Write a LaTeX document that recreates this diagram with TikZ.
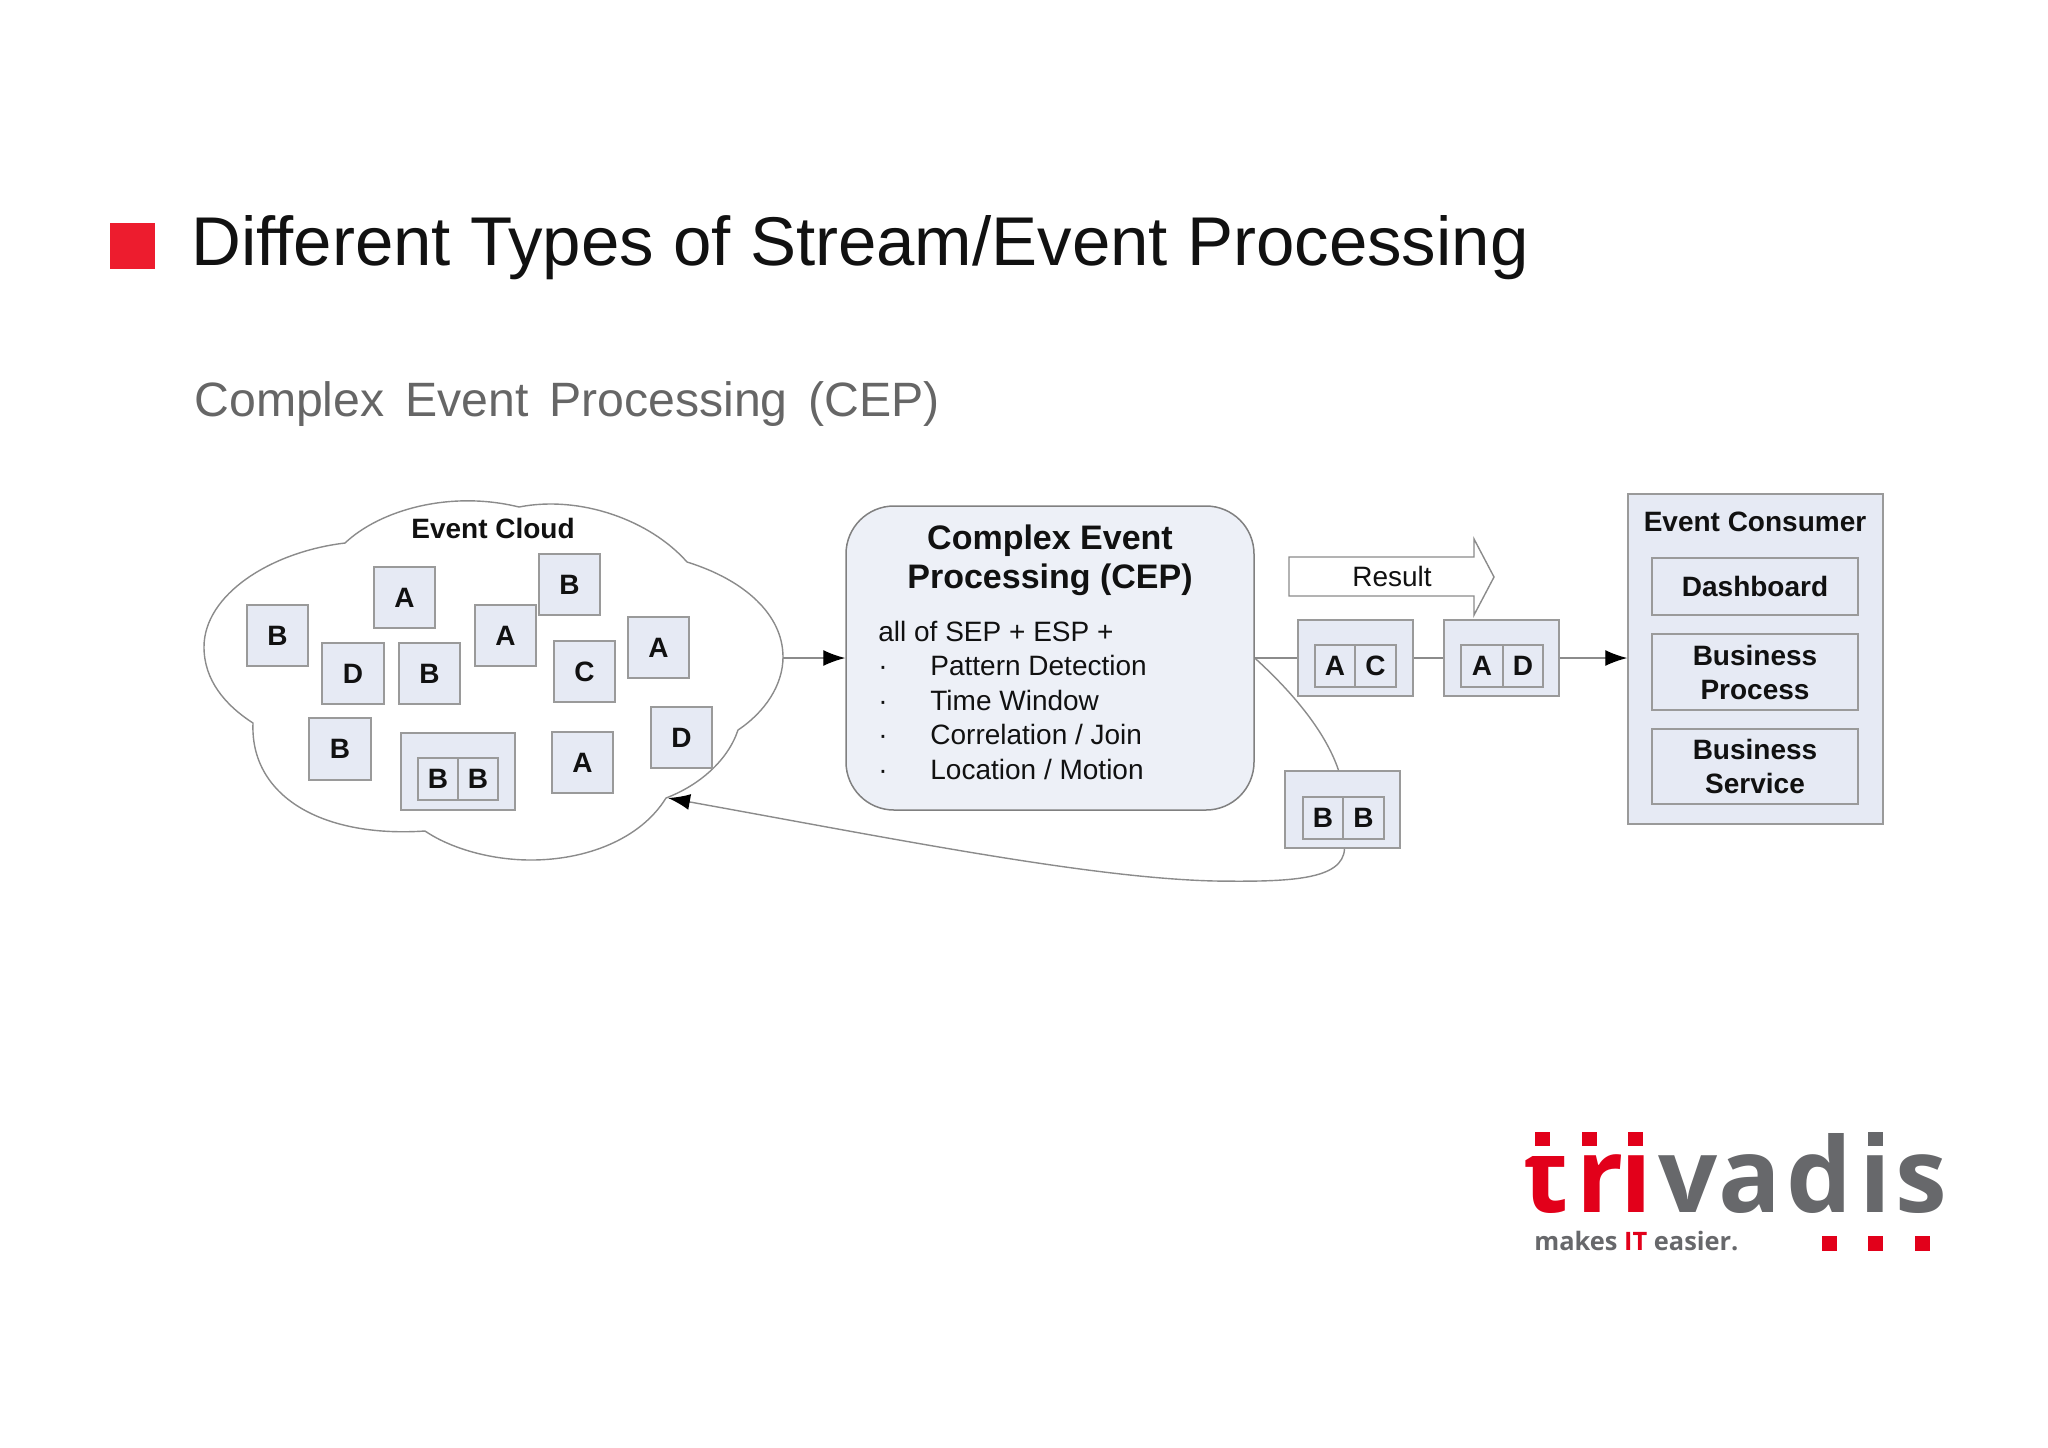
\documentclass[tikz,border=0pt]{standalone}
\usepackage{fontspec}
\setmainfont{Liberation Sans}
\newfontfamily\logofont{Open Sans}
\newfontfamily\subfont[WordSpace=1.55]{Liberation Sans}
\usetikzlibrary{arrows.meta}
\definecolor{boxfill}{HTML}{E6EAF4}
\definecolor{boxline}{HTML}{9A9A9A}
\definecolor{tvred}{HTML}{E2001A}
\definecolor{tvgray}{HTML}{67686B}
\definecolor{sqred}{HTML}{ED1C2E}
\definecolor{ink}{HTML}{111111}
\tikzset{
  x=0.5pt,y=-0.5pt,
  ebox/.style={draw=boxline,fill=boxfill,line width=0.75pt,inner sep=0pt,align=center,text=ink,font=\bfseries\fontsize{14}{17}\selectfont},
  txt/.style={inner sep=0pt,align=center,text=ink,font=\bfseries\fontsize{14}{17}\selectfont},
  bodytxt/.style={inner sep=0pt,anchor=base west,text=ink,font=\fontsize{14}{17}\selectfont},
  conn/.style={draw=boxline!90!black,line width=0.7pt},
  arr/.style={conn,-{Latex[black,length=11pt,width=8pt]}},
  logor/.style={inner sep=0pt,anchor=base,text=tvred,font=\logofont\bfseries\fontsize{52}{52}\selectfont},
  logog/.style={inner sep=0pt,anchor=base,text=tvgray,font=\logofont\bfseries\fontsize{52}{52}\selectfont},
}
\newcommand{\bx}[7][ebox]{\node[#1,minimum width={(#5-#3)*0.5pt},minimum height={(#6-#4)*0.5pt}] (#2) at ({(#3+#5)/2},{(#4+#6)/2}) {#7};}
\begin{document}
\begin{tikzpicture}
\useasboundingbox (0,0) rectangle (2048,1447);
% header
\fill[sqred] (110,223) rectangle (155,269);
\node[inner sep=0pt,anchor=base west,text=ink,font=\fontsize{34.5}{40}\selectfont] (title) at (191,265) {Different Types of Stream/Event Processing};
\node[inner sep=0pt,anchor=base west,text=black!60,font=\subfont\fontsize{24.1}{30}\selectfont] (sub) at (194,416) {Complex Event Processing (CEP)};
% cloud
\draw[conn,fill=white] (345,543) .. controls (380,510) and (450,490) .. (519,507)
  .. controls (580,495) and (650,520) .. (687,562)
  .. controls (745,580) and (783,615) .. (783,657)
  .. controls (783,685) and (765,712) .. (738,730)
  .. controls (728,760) and (700,785) .. (666,798)
  .. controls (640,840) and (585,860) .. (531,860)
  .. controls (490,860) and (450,848) .. (425,831)
  .. controls (320,838) and (250,795) .. (253,723)
  .. controls (225,705) and (204,680) .. (204,647)
  .. controls (204,595) and (270,552) .. (345,543) -- cycle;
\coordinate (cloudE) at (783,658);
\coordinate (cloudIn) at (668,798);
\node[txt] (cloudT) at (493,528) {Event Cloud};
\bx{b1}{247}{605}{308}{666}{B}
\bx{a1}{374}{567}{435}{628}{A}
\bx{a2}{475}{605}{536}{666}{A}
\bx{b2}{539}{554}{600}{615}{B}
\bx{d1}{322}{643}{384}{704}{D}
\bx{b3}{399}{643}{460}{704}{B}
\bx{c1}{554}{641}{615}{702}{C}
\bx{a3}{628}{617}{689}{678}{A}
\bx{b4}{309}{718}{371}{780}{B}
\bx{a4}{552}{732}{613}{793}{A}
\bx{d2}{651}{707}{712}{768}{D}
\bx{pc}{401}{733}{515}{810}{}
\bx{pc1}{418}{758}{458}{800}{B}
\bx{pc2}{458}{758}{498}{800}{B}
% CEP
\node[draw=black!50,fill=boxfill!70!white,line width=0.75pt,rounded corners=24pt,inner sep=0pt,minimum width=204pt,minimum height=152pt] (cep) at (1050,658) {};
\node[txt,font=\bfseries\fontsize{17}{19.5}\selectfont] (cepT) at (1050,560) {Complex Event\\Processing (CEP)};
\node[bodytxt] (l0) at (878,641) {all of SEP + ESP +};
\node[bodytxt] (d1b) at (878,675) {·};
\node[bodytxt] (l1) at (930,675) {Pattern Detection};
\node[bodytxt] (d2b) at (878,710) {·};
\node[bodytxt] (l2) at (930,710) {Time Window};
\node[bodytxt] (d3b) at (878,744) {·};
\node[bodytxt] (l3) at (930,744) {Correlation / Join};
\node[bodytxt] (d4b) at (878,779) {·};
\node[bodytxt] (l4) at (930,779) {Location / Motion};
% result arrow
\draw[conn,fill=white] (1289,557)--(1474,557)--(1474,539)--(1494,577)--(1474,615)--(1474,596)--(1289,596)--cycle;
\node[inner sep=0pt,text=ink,font=\fontsize{14}{17}\selectfont] (res) at (1392,576) {Result};
% packets
\bx{ac}{1298}{620}{1413}{696}{}
\bx{ac1}{1315}{645}{1355}{687}{A}
\bx{ac2}{1355}{645}{1396}{687}{C}
\bx{ad}{1444}{620}{1559}{696}{}
\bx{ad1}{1461}{645}{1503}{687}{A}
\bx{ad2}{1503}{645}{1543}{687}{D}
\bx{bb}{1285}{771}{1400}{848}{}
\bx{bb1}{1303}{797}{1343}{839}{B}
\bx{bb2}{1343}{797}{1384}{839}{B}
% consumer
\bx{cons}{1628}{494}{1883}{824}{}
\node[txt] (consT) at (1755,522) {Event Consumer};
\bx{dash}{1652}{558}{1858}{615}{Dashboard}
\bx{bp}{1652}{634}{1858}{710}{Business\\Process}
\bx{bs}{1652}{729}{1858}{804}{Business\\Service}
% connectors
\draw[arr] (cloudE) -- (cep.west |- cloudE);
\draw[conn] (cep.east |- ac.west) -- (ac.west);
\draw[conn] (ac.east) -- (ad.west);
\draw[arr] (ad.east) -- (cons.west |- ad.east);
\draw[conn] (cep.east |- ac.west) .. controls (1290,690) and (1325,730) .. ([xshift=-2pt]bb.north);
\draw[arr] ([xshift=1pt]bb.south) .. controls (1343,880) and (1290,882) .. (1215,881) .. controls (1090,878) and (900,840) .. (cloudIn);
% logo
\node[logor] (lt) at (1546,1212) {t};
\fill[white] (1525,1120) rectangle (1570,1156);
\node[logor] (lr) at (1600,1212) {r};
\node[logor] (li) at (1636,1212) {ı};
\node[logog] (lv) at (1688,1212) {v};
\node[logog] (la) at (1750,1212) {a};
\node[logog] (ld) at (1819,1212) {d};
\node[logog] (li2) at (1875,1212) {ı};
\node[logog] (ls) at (1921,1212) {s};
\fill[tvred] (1535,1132) rectangle (1550,1146);
\fill[tvred] (1582,1132) rectangle (1597,1146);
\fill[tvred] (1628,1132) rectangle (1643,1146);
\fill[tvgray] (1868,1132) rectangle (1883,1146);
\fill[tvred] (1822,1236) rectangle (1837,1251);
\fill[tvred] (1868,1236) rectangle (1883,1251);
\fill[tvred] (1915,1236) rectangle (1930,1251);
\node[inner sep=0pt,anchor=base west,text=tvgray,font=\logofont\bfseries\fontsize{12.7}{15}\selectfont] (tag) at (1534,1250) {makes \textcolor{tvred}{IT} easier.};
\end{tikzpicture}
\end{document}
